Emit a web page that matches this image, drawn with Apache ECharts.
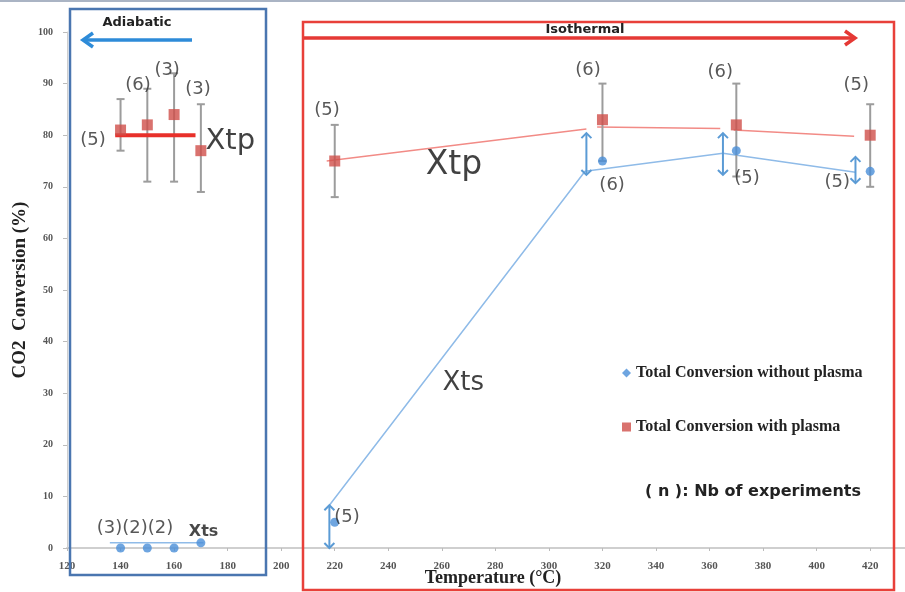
<!DOCTYPE html>
<html>
<head>
<meta charset="utf-8">
<script src="https://cdn.jsdelivr.net/npm/echarts@6/dist/echarts.min.js"></script>
<style>
  html, body { margin: 0; padding: 0; background: #fff; }
  #chart { width: 905px; height: 592px; }
</style>
</head>
<body>
<div id="chart"></div>
<script>
// Temperatures (°C) of the experiments
const temps = [140, 150, 160, 170, 220, 320, 370, 420];
// Total CO2 conversion (%) without plasma
const withoutPlasma = [0, 0, 0, 1, 5, 75, 77, 73];
// Total CO2 conversion (%) with plasma, and the spread of the runs
const withPlasma = [81, 82, 84, 77, 75, 83, 82, 80];
const plasmaLow = [77, 71, 71, 69, 68, 75, 72, 70];
const plasmaHigh = [87, 89, 92, 86, 82, 90, 90, 86];

// Hand-drawn guide lines (temperature, conversion); null = gap
const xtpGuide = [[217, 75], [314, 81.2], null, [318, 81.6], [364, 81.3], null, [369, 81], [414, 79.8]];
const xtsGuide = [[218, 8.3], [313.5, 73], [365, 76.5], [414.5, 72.8]];
const xtpAdiabatic = [[138, 80], [168, 80]];
const xtsAdiabatic = [[136, 1], [171, 1]];
// Vertical double arrows marking the plasma gain: [temperature, from, to]
const gainArrows = [[218, 0, 8.3], [314, 72.3, 80.4], [365, 72.3, 80.4], [414.5, 70.7, 75.8]];

// Number of experiments per point, placed at (temperature, conversion)
const countNotes = [
  [129.7, 79.1, '(5)'], [146.5, 89.7, '(6)'], [157.4, 92.6, '(3)'], [168.9, 88.8, '(3)'],
  [217.1, 84.9, '(5)'], [314.6, 92.6, '(6)'], [323.6, 70.3, '(6)'], [364, 92.2, '(6)'],
  [374, 71.7, '(5)'], [414.8, 89.7, '(5)'], [407.7, 70.9, '(5)'], [224.6, 6, '(5)'],
  [145.4, 3.9, '(3)(2)(2)']
];
const curveNotes = [
  [181, 78.7, 'Xtp', 29], [264.5, 74.2, 'Xtp', 33], [268, 32, 'Xts', 26]
];

const xTicks = { min: 120, max: 433, step: 20 };
const yTicks = { min: 0, max: 100, step: 10 };

const BLUE = '#4a8fd8';
const RED = '#cf4f4a';
const SERIF = '"Liberation Serif", "DejaVu Serif", serif';
const SANS = '"DejaVu Sans", "Open Sans", sans-serif';

const chart = echarts.init(document.getElementById('chart'));

function errorBars(params, api) {
  const x = api.value(0);
  const top = api.coord([x, api.value(2)]);
  const bot = api.coord([x, api.value(1)]);
  const c = 4;
  const st = { stroke: '#9c9c9c', lineWidth: 2 };
  return {
    type: 'group',
    children: [
      { type: 'line', shape: { x1: top[0], y1: top[1], x2: bot[0], y2: bot[1] }, style: st },
      { type: 'line', shape: { x1: top[0] - c, y1: top[1], x2: top[0] + c, y2: top[1] }, style: st },
      { type: 'line', shape: { x1: bot[0] - c, y1: bot[1], x2: bot[0] + c, y2: bot[1] }, style: st }
    ]
  };
}

function doubleArrow(params, api) {
  const x = api.value(0);
  const a = api.coord([x, api.value(2)]);
  const b = api.coord([x, api.value(1)]);
  const w = 5, h = 5;
  const st = { stroke: '#5b9bd5', lineWidth: 2, fill: null };
  return {
    type: 'group',
    children: [
      { type: 'line', shape: { x1: a[0], y1: a[1] + 1, x2: b[0], y2: b[1] - 1 }, style: st },
      { type: 'polyline', shape: { points: [[a[0] - w, a[1] + h], [a[0], a[1]], [a[0] + w, a[1] + h]] }, style: st },
      { type: 'polyline', shape: { points: [[b[0] - w, b[1] - h], [b[0], b[1]], [b[0] + w, b[1] - h]] }, style: st }
    ]
  };
}

function noteLabel(size, weight, color) {
  return {
    show: true, position: 'inside',
    formatter: p => p.value[2],
    fontFamily: SANS, fontSize: size, fontWeight: weight, color: color
  };
}

chart.setOption({
  animation: false,
  backgroundColor: '#fff',
  grid: { left: 67, right: 0, top: 32, bottom: 44, containLabel: false, outerBoundsMode: 'none' },
  legend: {
    orient: 'vertical', left: 617, top: 360, itemGap: 38,
    itemWidth: 9, itemHeight: 9,
    textStyle: { fontFamily: SERIF, fontWeight: 'bold', fontSize: 16, color: '#222' },
    data: [
      { name: 'Total Conversion without plasma', icon: 'diamond' },
      { name: 'Total Conversion with plasma', icon: 'rect' }
    ]
  },
  xAxis: {
    type: 'value', min: xTicks.min, max: xTicks.max, interval: xTicks.step,
    name: 'Temperature (°C)', nameLocation: 'middle', nameGap: 21, nameMoveOverlap: false,
    nameTextStyle: { fontFamily: SERIF, fontWeight: 'bold', fontSize: 18, color: '#222', padding: [0, 0, 0, 14] },
    axisLine: { show: true, lineStyle: { color: '#cfcfcf', width: 2 } },
    axisTick: { show: true, length: 3, lineStyle: { color: '#bbb' } },
    axisLabel: {
      margin: 13, fontFamily: SERIF, fontWeight: 'bold', fontSize: 11, color: '#555',
      formatter: v => (v % xTicks.step === 0 ? String(v) : '')
    },
    splitLine: { show: false }
  },
  yAxis: {
    type: 'value', min: yTicks.min, max: yTicks.max, interval: yTicks.step,
    name: 'CO2  Conversion (%)', nameLocation: 'middle', nameGap: 37, nameMoveOverlap: false,
    nameTextStyle: { fontFamily: SERIF, fontWeight: 'bold', fontSize: 19, color: '#222' },
    axisLine: { show: true, lineStyle: { color: '#cfcfcf', width: 1 } },
    axisTick: { show: true, length: 4, lineStyle: { color: '#bbb' } },
    axisLabel: { margin: 14, fontFamily: SERIF, fontWeight: 'bold', fontSize: 10, color: '#555' },
    splitLine: { show: false }
  },
  series: [
    {
      name: 'xtp-guide', type: 'line', data: xtpGuide, symbol: 'none', connectNulls: false,
      lineStyle: { color: '#f28b86', width: 1.5 }, z: 2, silent: true
    },
    {
      name: 'xts-guide', type: 'line', data: xtsGuide, symbol: 'none',
      lineStyle: { color: '#8fbbe8', width: 1.5 }, z: 2, silent: true
    },
    {
      name: 'xtp-adiabatic', type: 'line', data: xtpAdiabatic, symbol: 'none',
      lineStyle: { color: '#e8302a', width: 4 }, z: 4, silent: true
    },
    {
      name: 'xts-adiabatic', type: 'line', data: xtsAdiabatic, symbol: 'none',
      lineStyle: { color: '#8fbbe8', width: 1.5 }, z: 2, silent: true
    },
    {
      name: 'spread', type: 'custom', renderItem: errorBars,
      data: temps.map((t, i) => [t, plasmaLow[i], plasmaHigh[i]]), z: 3, silent: true
    },
    {
      name: 'gain', type: 'custom', renderItem: doubleArrow, data: gainArrows, z: 3, silent: true
    },
    {
      name: 'Total Conversion without plasma', type: 'scatter', symbol: 'circle', symbolSize: 9,
      itemStyle: { color: BLUE }, data: temps.map((t, i) => [t, withoutPlasma[i]]), z: 5
    },
    {
      name: 'Total Conversion with plasma', type: 'scatter', symbol: 'rect', symbolSize: 11,
      itemStyle: { color: RED }, data: temps.map((t, i) => [t, withPlasma[i]]), z: 5
    },
    {
      name: 'counts', type: 'scatter', symbolSize: 0, silent: true, z: 6,
      data: countNotes, label: noteLabel(18, 'normal', '#2e2e2e')
    },
    {
      name: 'curve-names', type: 'scatter', symbolSize: 0, silent: true, z: 6,
      data: curveNotes.map(d => ({ value: d, label: { fontSize: d[3] } })),
      label: { show: true, position: 'inside', formatter: p => p.value[2], fontFamily: SANS, color: '#111' }
    },
    {
      name: 'xts-small', type: 'scatter', symbolSize: 0, silent: true, z: 6,
      data: [[171, 3.1, 'Xts']], label: noteLabel(16, 'bold', '#1a1a1a')
    }
  ],
  graphic: [
    { type: 'rect', left: 0, top: 0, shape: { width: 905, height: 2 }, style: { fill: '#aab4c4' }, silent: true },
    // Adiabatic zone
    { type: 'rect', shape: { x: 70, y: 9, width: 196, height: 566 }, style: { fill: null, stroke: '#4a76b0', lineWidth: 2.5 }, z: 10 },
    { type: 'text', x: 137, y: 23, style: { text: 'Adiabatic', font: 'bold 13px ' + SANS, fill: '#222', align: 'center', verticalAlign: 'middle' }, z: 10 },
    { type: 'line', shape: { x1: 192, y1: 40, x2: 84, y2: 40 }, style: { stroke: '#2e8bd8', lineWidth: 3.5 }, z: 10 },
    { type: 'polyline', shape: { points: [[93, 33], [83, 40], [93, 47]] }, style: { stroke: '#2e8bd8', lineWidth: 3.5, fill: null }, z: 10 },
    // Isothermal zone
    { type: 'rect', shape: { x: 303, y: 22, width: 591, height: 568 }, style: { fill: null, stroke: '#e8403a', lineWidth: 2.5 }, z: 10 },
    { type: 'text', x: 585, y: 30, style: { text: 'Isothermal', font: 'bold 13px ' + SANS, fill: '#222', align: 'center', verticalAlign: 'middle' }, z: 10 },
    { type: 'line', shape: { x1: 304, y1: 38, x2: 853, y2: 38 }, style: { stroke: '#e53935', lineWidth: 3.5 }, z: 10 },
    { type: 'polyline', shape: { points: [[845, 31], [855, 38], [845, 45]] }, style: { stroke: '#e53935', lineWidth: 3.5, fill: null }, z: 10 },
    // Footnote
    { type: 'text', x: 645, y: 492, style: { text: '( n ): Nb of experiments', font: 'bold 16px ' + SANS, fill: '#222', verticalAlign: 'middle' }, z: 10 }
  ]
});
</script>
</body>
</html>
